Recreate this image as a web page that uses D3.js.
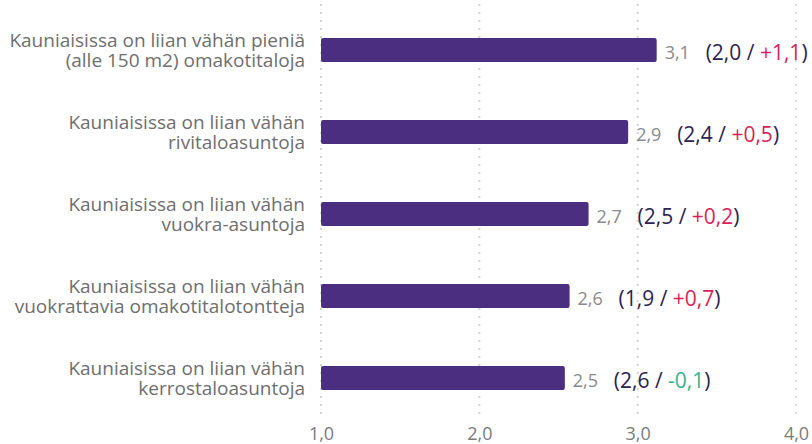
<!DOCTYPE html>
<html>
<head>
<meta charset="utf-8">
<script src="https://cdn.jsdelivr.net/npm/d3@7"></script>
<style>
html,body{margin:0;padding:0;background:#fff;}
svg{display:block;font-family:"Open Sans",sans-serif;}
</style>
</head>
<body>
<svg id="chart" width="812" height="444"></svg>
<script>
const categories = [
  ["Kauniaisissa on liian vähän pieniä", "(alle 150 m2) omakotitaloja"],
  ["Kauniaisissa on liian vähän", "rivitaloasuntoja"],
  ["Kauniaisissa on liian vähän", "vuokra-asuntoja"],
  ["Kauniaisissa on liian vähän", "vuokrattavia omakotitalotontteja"],
  ["Kauniaisissa on liian vähän", "kerrostaloasuntoja"]
];
const values = [3.12, 2.94, 2.69, 2.57, 2.54];
const previous = [2.0, 2.4, 2.5, 1.9, 2.6];
const changes = [1.1, 0.5, 0.2, 0.7, -0.1];
const ticks = [1, 2, 3, 4];

const svg = d3.select("#chart");
const x = d3.scaleLinear().domain([1, 4]).range([321, 796]);
const y = d3.scaleBand().domain(d3.range(categories.length)).range([9, 419]).paddingInner(0.705).paddingOuter(0.3525);
const fmt = v => d3.format(".1f")(v).replace(".", ",");
const fmtSigned = v => (v >= 0 ? "+" : "-") + d3.format(".1f")(Math.abs(v)).replace(".", ",");

// gridlines
svg.append("g").selectAll("line").data(ticks).join("line")
  .attr("x1", d => x(d)).attr("x2", d => x(d))
  .attr("y1", 4).attr("y2", 418)
  .attr("stroke", "#d4d4d4").attr("stroke-width", 2)
  .attr("stroke-dasharray", "2,6");

// axis
const axis = svg.append("g").attr("transform", "translate(0,421)")
  .call(d3.axisBottom(x).tickValues(ticks).tickFormat(fmt).tickSize(0).tickPadding(0));
axis.select(".domain").remove();
axis.selectAll("text").attr("dy", "0").attr("y", 19).attr("font-size", 18).attr("fill", "#7a7a7a").attr("font-family", "Open Sans, sans-serif");

// bars
svg.append("g").selectAll("rect").data(values).join("rect")
  .attr("x", x(1)).attr("y", (d, i) => y(i))
  .attr("width", d => x(d) - x(1)).attr("height", y.bandwidth())
  .attr("rx", 2).attr("fill", "#4c2e80");

// category labels
const lab = svg.append("g").selectAll("text").data(categories).join("text")
  .attr("text-anchor", "end").attr("font-size", 19).attr("fill", "#6e6e6e");
lab.each(function(d, i) {
  const c = y(i) + y.bandwidth() / 2;
  d3.select(this).selectAll("tspan").data(d).join("tspan")
    .attr("x", 305).attr("y", (t, j) => c - 3.5 + j * 20).text(t => t);
});

// value labels
svg.append("g").selectAll("text").data(values).join("text")
  .attr("x", d => x(d) + 8).attr("y", (d, i) => y(i) + y.bandwidth() / 2 + 9)
  .attr("font-size", 18).attr("fill", "#8a8a8a").text(d => fmt(d));

// comparisons
const cmp = svg.append("g").selectAll("text").data(values).join("text")
  .attr("x", d => x(d) + 49).attr("y", (d, i) => y(i) + y.bandwidth() / 2 + 9.5)
  .attr("font-size", 21).attr("fill", "#2b2450");
cmp.each(function(d, i) {
  const t = d3.select(this);
  t.append("tspan").text("(" + fmt(previous[i]) + " / ");
  t.append("tspan").attr("fill", changes[i] >= 0 ? "#d81f57" : "#3bb387").text(fmtSigned(changes[i]));
  t.append("tspan").text(")");
});
</script>
</body>
</html>
